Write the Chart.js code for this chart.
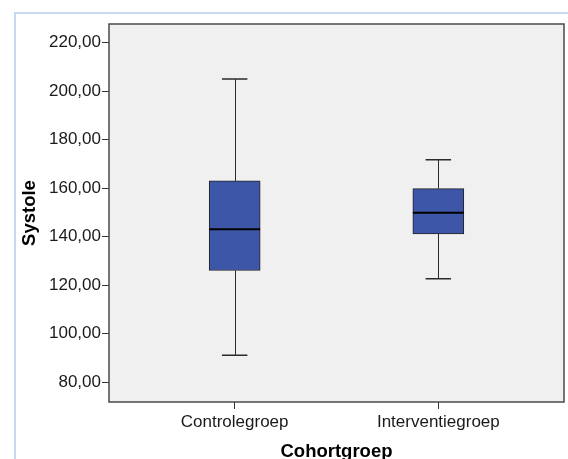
<!DOCTYPE html>
<html>
<head>
<meta charset="utf-8">
<script src="https://cdn.jsdelivr.net/npm/chart.js@4/dist/chart.umd.min.js"></script>
<style>
  html, body { margin: 0; padding: 0; background: #fff; }
</style>
</head>
<body>
<canvas id="chart" width="568" height="459"></canvas>
<script>
/* Boxplot Systole per cohortgroep */

const categories = ['Controlegroep', 'Interventiegroep'];
const positions = [1, 2];
const minimum = [91, 122.6];
const q1 = [126, 141.1];
const median = [143, 149.8];
const q3 = [163, 159.8];
const maximum = [205, 171.7];
const yTicks = [80, 100, 120, 140, 160, 180, 200, 220];

const FONT = 'Liberation Sans, Arial, sans-serif';
const INK = '#1a1a1a';

// achtergrond, kader, whiskers en medianen
const boxPlot = {
  id: 'boxPlot',
  beforeDraw(chart) {
    const ctx = chart.ctx;
    ctx.save();
    ctx.fillStyle = '#fff';
    ctx.fillRect(0, 0, chart.width, chart.height);
    ctx.strokeStyle = '#c6d9f1';
    ctx.lineWidth = 2;
    ctx.strokeRect(15, 13, chart.width, chart.height);
    ctx.restore();
  },
  beforeDatasetsDraw(chart) {
    const { ctx, chartArea: a } = chart;
    ctx.save();
    ctx.fillStyle = '#f0f0f0';
    ctx.fillRect(a.left, a.top, a.right - a.left, a.bottom - a.top);
    ctx.restore();
  },
  afterDatasetsDraw(chart) {
    const { ctx, chartArea: a, scales: { x, y } } = chart;
    ctx.save();
    ctx.strokeStyle = '#2a2a2a';
    ctx.lineWidth = 1;
    positions.forEach((p, i) => {
      const cx = Math.round(x.getPixelForValue(p)) + 0.5;
      const l = x.getPixelForValue(p - 0.0625);
      const r = x.getPixelForValue(p + 0.0625);
      ctx.beginPath();
      ctx.moveTo(cx, y.getPixelForValue(q3[i]));
      ctx.lineTo(cx, y.getPixelForValue(maximum[i]));
      ctx.moveTo(cx, y.getPixelForValue(q1[i]));
      ctx.lineTo(cx, y.getPixelForValue(minimum[i]));
      ctx.stroke();
      ctx.lineWidth = 1.5;
      ctx.beginPath();
      ctx.moveTo(l, y.getPixelForValue(maximum[i]));
      ctx.lineTo(r, y.getPixelForValue(maximum[i]));
      ctx.moveTo(l, y.getPixelForValue(minimum[i]));
      ctx.lineTo(r, y.getPixelForValue(minimum[i]));
      ctx.stroke();
      ctx.lineWidth = 1;
    });
    ctx.strokeStyle = '#000';
    ctx.lineWidth = 2;
    positions.forEach((p, i) => {
      const bl = x.getPixelForValue(p - 0.125);
      const br = x.getPixelForValue(p + 0.125);
      const my = y.getPixelForValue(median[i]);
      ctx.beginPath();
      ctx.moveTo(bl, my);
      ctx.lineTo(br, my);
      ctx.stroke();
    });
    ctx.strokeStyle = '#4a4a4a';
    ctx.lineWidth = 1.5;
    ctx.strokeRect(a.left, a.top, a.right - a.left, a.bottom - a.top);
    ctx.restore();
  }
};

new Chart(document.getElementById('chart'), {
  type: 'bar',
  data: {
    datasets: [{
      label: 'Systole',
      data: positions.map((p, i) => ({ x: p, y: [q1[i], q3[i]] })),
      backgroundColor: '#3d56a8',
      borderColor: '#222',
      borderWidth: 1,
      borderSkipped: false,
      barThickness: 51
    }]
  },
  options: {
    responsive: false,
    animation: false,
    devicePixelRatio: 1,
    layout: { padding: { top: 24, right: 4, left: 0, bottom: 0 } },
    plugins: {
      legend: { display: false },
      tooltip: { enabled: false }
    },
    scales: {
      x: {
        type: 'linear',
        min: 0.383,
        max: 2.617,
        offset: false,
        afterBuildTicks: s => { s.ticks = positions.map(v => ({ value: v })); },
        afterFit: s => { s.height = 57; },
        grid: { offset: false, drawOnChartArea: false, tickLength: 7, tickColor: '#333' },
        border: { display: false },
        ticks: {
          padding: 3,
          color: INK,
          font: { family: FONT, size: 17 },
          callback: v => categories[positions.indexOf(v)]
        },
        title: {
          display: true,
          text: 'Cohortgroep',
          color: '#000',
          font: { family: FONT, size: 18.5, weight: 'bold', lineHeight: 1 },
          padding: { top: 0, bottom: -2 }
        }
      },
      y: {
        min: 71.76,
        max: 227.7,
        afterBuildTicks: s => { s.ticks = yTicks.map(v => ({ value: v })); },
        afterFit: s => { s.width = 109; },
        grid: { drawOnChartArea: false, tickLength: 7, tickColor: '#333' },
        border: { display: false },
        ticks: {
          padding: 1,
          color: INK,
          font: { family: FONT, size: 17 },
          callback: v => v.toFixed(2).replace('.', ',')
        },
        title: {
          display: true,
          text: 'Systole',
          color: '#000',
          font: { family: FONT, size: 18.5, weight: 'bold', lineHeight: 1 },
          padding: { top: 20.5, bottom: 0 }
        }
      }
    }
  },
  plugins: [boxPlot]
});
</script>
</body>
</html>
